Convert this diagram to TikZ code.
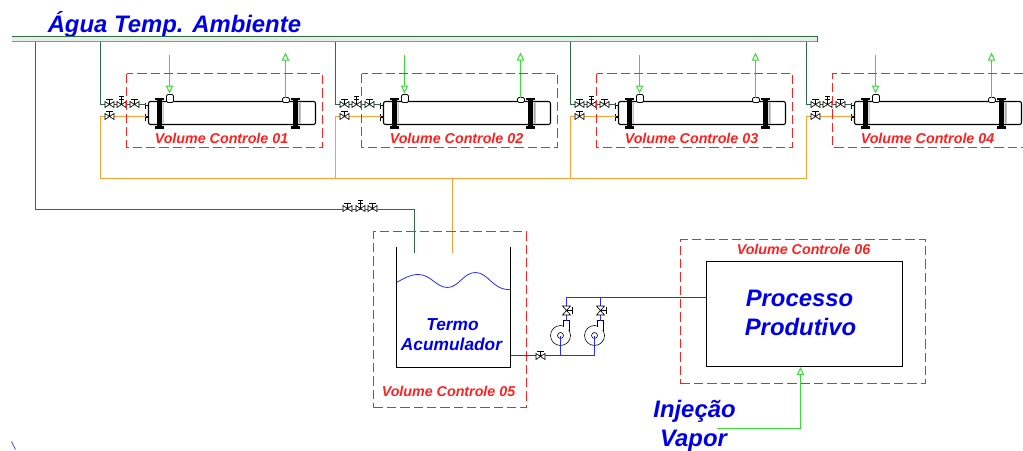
\documentclass[tikz,border=0pt]{standalone}
\usepackage{fontspec}
\setmainfont{Liberation Sans}
\usetikzlibrary{arrows.meta}

\definecolor{watergreen}{HTML}{2F6B45}
\definecolor{hotorange}{HTML}{F7A234}
\definecolor{flowblue}{HTML}{2A2AF0}
\definecolor{textblue}{HTML}{0000E8}
\definecolor{steamgreen}{HTML}{35DD35}
\definecolor{volred}{HTML}{FF2020}

\tikzset{
    water/.style={draw=watergreen, line width=0.75pt},
    hot/.style={draw=hotorange, line width=0.75pt},
    flow/.style={draw=flowblue, line width=0.75pt},
    steam/.style={draw=steamgreen, line width=0.75pt, -{Triangle[open, length=6pt, width=5.5pt]}},
    volbox/.style={draw=volred, line width=0.75pt, dash pattern=on 7pt off 3pt},
    vollabel/.style={text=volred, font=\fontsize{10.7}{12}\selectfont\bfseries\itshape},
    bluelabel/.style={text=textblue, font=\fontsize{17.9}{20}\selectfont\bfseries\itshape},
    tanklabel/.style={text=textblue, font=\fontsize{13}{15}\selectfont\bfseries\itshape},
    valve/.pic={
        \draw[black, line width=0.45pt, fill=white] (-4.5,-2) -- (4.5,4) -- (4.5,-2) -- (-4.5,4) -- cycle;
        \draw[black, line width=0.6pt] (0,1) -- (0,-4) (-3.5,-4) -- (3.5,-4);
    },
    handvalve/.pic={
        \draw[black, line width=0.45pt, fill=white] (-4.5,-2) -- (4.5,4) -- (4.5,-2) -- (-4.5,4) -- cycle;
        \draw[black, line width=0.6pt] (0,1) -- (0,-7) (-2.5,-7) -- (2.5,-7) (-2.5,-4) -- (2.5,-4);
    },
    upvalve/.pic={
        \draw[black, line width=0.45pt, fill=white] (-4,-4.5) -- (4,4.5) -- (-4,4.5) -- (4,-4.5) -- cycle;
        \draw[black, line width=0.6pt] (0,0) -- (6,0) (6,-3.5) -- (6,3.5);
    },
    pump/.pic={
        \draw[black, line width=0.45pt, fill=white] (0,0) circle (10);
        \draw[black, line width=0.45pt] (0,0) circle (3);
        \fill[white] (3,-13) rectangle (9,-6);
        \draw[black, line width=0.45pt] (9,-5) -- (9,-15);
        \draw[black, line width=1.1pt] (2,-15) -- (9,-15);
        \draw[black, line width=0.45pt] (3,-15) -- (3,-9);
        \coordinate (-out) at (6,-15);
        \coordinate (-in) at (0,0);
    },
    exchanger/.pic={
        \draw[black, line width=0.8pt, fill=white, rounded corners=1.5pt] (148,101) rectangle (315,124);
        \fill[black!35] (162,102) rectangle (163,123) (298,102) rectangle (300,123);
        \foreach \fx in {159,295} {
            \fill[black] (\fx-2.5,97) rectangle (\fx+2.5,128);
            \fill[black] (\fx-4.5,97) rectangle (\fx+4.5,99.5);
            \fill[black] (\fx-4.5,125.5) rectangle (\fx+4.5,128);
        }
        \draw[black, line width=0.8pt] (145,102) -- (145,108) (145,113) -- (145,120);
        \draw[black, line width=0.8pt] (145,105) -- (148,105) (145,116.5) -- (148,116.5);
        \draw[black, line width=0.5pt, fill=white, rounded corners=1pt] (166,94) rectangle (173,102);
        \draw[black, line width=0.5pt, fill=white, rounded corners=1pt] (282,97) rectangle (289,102);
        \coordinate (-gin) at (145,104);
        \coordinate (-hin) at (145,116);
        \coordinate (-sin) at (169,93);
        \coordinate (-sout) at (285,97);
    },
}

\begin{document}
\begin{tikzpicture}[x=0.75pt, y=-0.75pt]
    \useasboundingbox (-0.5,-0.5) rectangle (1022.5,449.5);

    % header
    \node[bluelabel, anchor=base west, inner sep=0pt] (title) at (47,32) {Água Temp. Ambiente};
    \fill[watergreen!12] (11,36) rectangle (817,41);
    \draw[water] (11,36) -- (817,36) -- (817,41);
    \draw[water, draw opacity=0.6] (817,41) -- (11,41);

    \coordinate (hd0) at (35,41);
    \coordinate (tankg) at (414,252);
    \coordinate (tankh) at (452,252);
    \coordinate (coll) at (452,178);

    % heat exchangers
    \foreach \i/\ox in {1/0,2/235,3/470,4/706} {
        \pic (hx\i) at (\ox,0) {exchanger};
        \coordinate (hd\i) at (100+\ox,41);
        \coordinate (ret\i) at (100+\ox,178);
        \coordinate (sa\i) at (169+\ox,54);
        \coordinate (sb\i) at (285+\ox,52);
        \draw[water] (hd\i) |- (hx\i-gin);
        \draw[hot] (hx\i-hin) -| (ret\i);
        \draw[steam] (sa\i) -- (hx\i-sin);
        \draw[steam] (hx\i-sout) -- (sb\i);
        \pic at (109+\ox,103) {valve};
        \pic at (121+\ox,103) {handvalve};
        \pic at (134+\ox,103) {valve};
        \pic at (109+\ox,115) {valve};
        \node[vollabel] (vc\i) at (221+\ox,138) {Volume Controle 0\i};
    }
    \foreach \ox in {0,235,470} {
        \draw[volbox] (126+\ox,73) rectangle (322+\ox,147);
    }
    \draw[volbox] (1023,73) -- (832,73) -- (832,147) -- (1023,147);
    \draw[hot] (ret1) -- (ret4);
    \draw[hot] (coll) -- (tankh);

    % tank feed
    \draw[water] (hd0) |- (tankg |- 0,209) -- (tankg);
    \pic at (347,207) {valve};
    \pic at (360,207) {handvalve};
    \pic at (372,207) {valve};

    % tank
    \node[volbox, minimum width=114.75pt, minimum height=132pt, inner sep=0pt] (vb5) at (449.5,319) {};
    \draw[black, line width=0.7pt] (396,246) -- (396,367) -- (510,367) -- (510,246);
    \draw[flow, line width=0.6pt] (396,282) .. controls (405,277) and (410,274) .. (418,274)
        .. controls (430,274) and (436,287) .. (447,287)
        .. controls (458,287) and (463,272) .. (475,272)
        .. controls (488,272) and (492,290) .. (510,289);
    \node[tanklabel] (termo) at (452,324) {Termo};
    \node[tanklabel] (acum) at (451,344) {Acumulador};
    \node[vollabel] (vc5) at (448,391) {Volume Controle 05};

    % process
    \node[volbox, minimum width=183.75pt, minimum height=108pt, inner sep=0pt] (vb6) at (802.5,311) {};
    \node[draw=black, line width=0.75pt, minimum width=147pt, minimum height=78.75pt, inner sep=0pt] (proc) at (804,313.5) {};
    \node[bluelabel] (proc1) at (799,298) {Processo};
    \node[bluelabel] (proc2) at (800,326) {Produtivo};
    \node[vollabel] (vc6) at (803,249) {Volume Controle 06};

    % pumps
    \coordinate (tankout) at (510,355);
    \coordinate (jn2) at (594,355);
    \coordinate (jn1) at (560,355);
    \draw[flow] (tankout) -- (jn2);
    \pic (pa) at (560,335) {pump};
    \pic (pb) at (594,335) {pump};
    \draw[flow] (pa-in) -- (jn1);
    \draw[flow] (pb-in) -- (jn2);
    \coordinate (hdp) at (proc.west |- 0,297);
    \draw[flow] (pa-out) |- (hdp);
    \draw[flow] (pb-out) -- (pb-out |- hdp);
    \pic at (540,355) {valve};
    \pic at (566,310) {upvalve};
    \pic at (600,310) {upvalve};

    % steam injection
    \node[bluelabel] (inj) at (694,411) {Injeção};
    \node[bluelabel] (vap) at (693,440) {Vapor};
    \coordinate (st1) at (716,428);
    \coordinate (st2) at (800,428);
    \draw[steam] (st1) -- (st2) -- (proc.south -| st2);

    \coordinate (mk1) at (11,441);
    \coordinate (mk2) at (15,449);
    \draw[flow, line width=0.5pt] (mk1) -- (mk2);
\end{tikzpicture}
\end{document}
